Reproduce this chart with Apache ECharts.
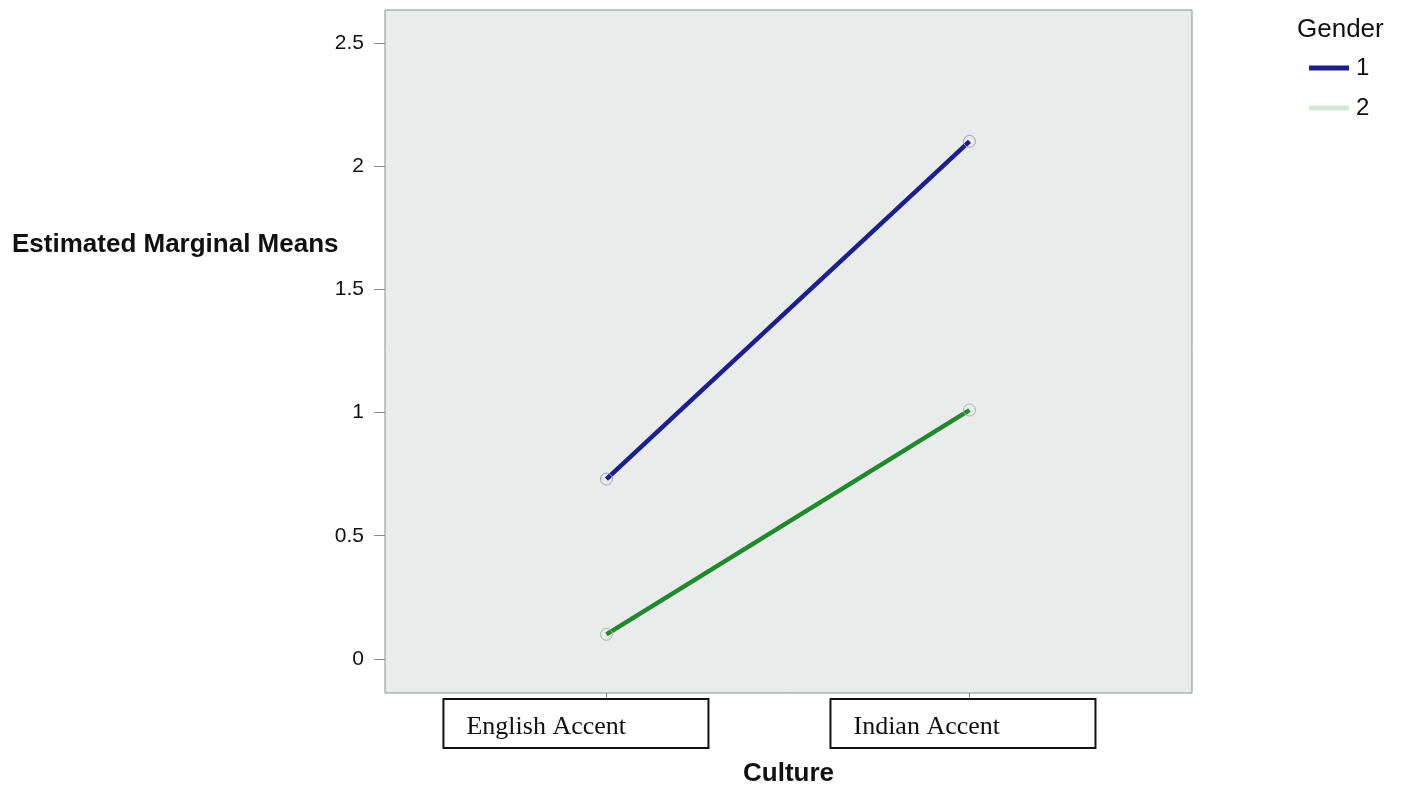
<!DOCTYPE html>
<html>
<head>
<meta charset="utf-8">
<script src="https://cdn.jsdelivr.net/npm/echarts@6/dist/echarts.min.js"></script>
<style>
  html, body { margin: 0; padding: 0; background: #fff; }
  #chart { width: 1401px; height: 785px; }
</style>
</head>
<body>
<div id="chart"></div>
<script>
// data
var categories = ['English Accent', 'Indian Accent'];
var gender1 = [0.73, 2.10];
var gender2 = [0.10, 1.01];
var yTicks = [0, 0.5, 1, 1.5, 2, 2.5];

var chart = echarts.init(document.getElementById('chart'));

function toPoints(vals) {
  return vals.map(function (v, i) { return [i, v]; });
}

// spacer widths shift each label box off its tick like in the original
var option = {
  backgroundColor: '#fff',
  animation: false,
  title: [{
    text: 'Gender',
    left: 1292,
    top: 12,
    textStyle: { fontFamily: 'Liberation Sans', fontSize: 26, fontWeight: 'normal', color: '#111' }
  }, {
    text: 'Estimated Marginal Means',
    left: 7,
    top: 227,
    textStyle: { fontFamily: 'Liberation Sans', fontSize: 26, fontWeight: 'bold', color: '#111' }
  }],
  legend: {
    orient: 'vertical',
    left: 1304,
    top: 51,
    icon: 'rect',
    itemWidth: 40,
    itemHeight: 5,
    itemGap: 16,
    textStyle: { fontFamily: 'Liberation Sans', fontSize: 24, color: '#111', padding: [0, 0, 0, 2] },
    data: [
      { name: '1', itemStyle: { color: '#1c1f8c', borderWidth: 0 } },
      { name: '2', itemStyle: { color: '#d6e6da', borderWidth: 0 } }
    ]
  },
  grid: {
    left: 385,
    right: 209,
    top: 10,
    bottom: 92,
    containLabel: false,
    outerBoundsMode: 'none',
    show: true,
    backgroundColor: '#eaecec',
    borderColor: '#8c8c8c',
    borderWidth: 1
  },
  xAxis: {
    type: 'value',
    min: -0.61,
    max: 1.613,
    axisLine: { show: false, onZero: false },
    splitLine: { show: false },
    axisTick: {
      show: true,
      customValues: [0, 1],
      length: 7,
      lineStyle: { color: '#888' }
    },
    axisLabel: {
      customValues: [0, 1],
      margin: 7,
      formatter: function (v) {
        var i = Math.round(v);
        return i === 0 ? '{box|' + categories[0] + '}{sp0|}' : '{box|' + categories[1] + '}{sp1|}';
      },
      rich: {
        box: {
          fontFamily: 'Liberation Serif',
          fontSize: 26,
          color: '#111',
          width: 241,
          height: 40,
          padding: [7, 0, 0, 22],
          backgroundColor: '#fff',
          borderColor: '#111',
          borderWidth: 2,
          align: 'left'
        },
        sp0: { width: 61, height: 40 },
        sp1: { width: 13, height: 40 }
      }
    },
    name: 'Culture',
    nameLocation: 'middle',
    nameGap: 68,
    nameTextStyle: { fontFamily: 'Liberation Sans', fontSize: 26, fontWeight: 'bold', color: '#111' }
  },
  yAxis: {
    type: 'value',
    min: -0.138,
    max: 2.633,
    axisLine: { show: false, onZero: false },
    splitLine: { show: false },
    axisTick: {
      show: true,
      customValues: yTicks,
      length: 11,
      lineStyle: { color: '#888' }
    },
    axisLabel: {
      customValues: yTicks,
      margin: 21,
      fontFamily: 'Liberation Sans',
      fontSize: 21,
      color: '#111'
    }
  },
  series: [{
    name: '1',
    type: 'line',
    data: toPoints(gender1),
    symbol: 'circle',
    symbolSize: 12,
    lineStyle: { color: '#1c1f8c', width: 4.5 },
    itemStyle: { color: 'rgba(0,0,0,0)', borderColor: '#9aa0b4', borderWidth: 1 }
  }, {
    name: '2',
    type: 'line',
    data: toPoints(gender2),
    symbol: 'circle',
    symbolSize: 12,
    lineStyle: { color: '#1f8a2c', width: 4.5 },
    itemStyle: { color: 'rgba(0,0,0,0)', borderColor: '#a8b4a8', borderWidth: 1 }
  }]
};

chart.setOption(option);
</script>
</body>
</html>
